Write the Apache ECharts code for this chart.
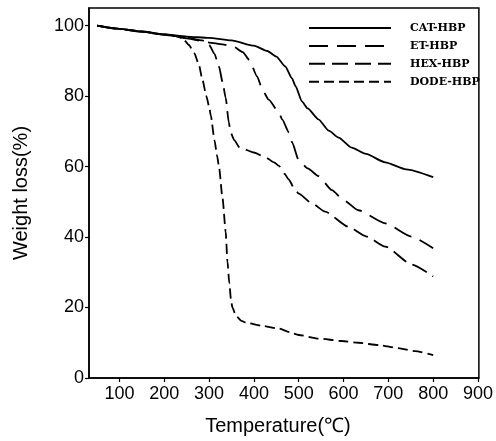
<!DOCTYPE html>
<html>
<head>
<meta charset="utf-8">
<script src="https://cdn.jsdelivr.net/npm/echarts@6/dist/echarts.min.js"></script>
<style>
  html, body { margin: 0; padding: 0; background: #fff; }
  #chart { width: 496px; height: 441px; }
</style>
</head>
<body>
<div id="chart"></div>
<script>
// TGA curves: [temperature (°C), weight (%)]
const seriesNames = ['CAT-HBP', 'ET-HBP', 'HEX-HBP', 'DODE-HBP'];

const catHbp = [[50,100],[100,99.1],[150,98.4],[200,97.5],[250,96.9],[300,96.5],[350,95.8],[400,94.3],[430,92.8],[450,91.2],[470,88.4],[485,85],[493,82.8],[507,78.5],[520,76.5],[544,73.4],[567,70.2],[589,68.2],[618,65.4],[650,63.6],[693,61.2],[740,59.2],[800,57.0]];

const etHbp = [[50,100],[100,99.0],[150,98.2],[200,97.4],[250,96.4],[300,95.2],[330,94.7],[355,94.0],[375,92.5],[390,90.2],[407,85.6],[420,81.5],[433,79.0],[455,75.5],[463,73.4],[478,69.7],[485,66.9],[500,61.8],[520,59.5],[544,57.3],[574,53.3],[600,50.5],[633,47.6],[693,43.9],[752,40.1],[800,36.8]];

const hexHbp = [[50,100],[100,99.1],[150,98.3],[200,97.5],[250,96.6],[285,95.8],[300,94.5],[312,92],[322,88.4],[330,84],[337,79.5],[344,72.5],[348,69.7],[356,67.5],[368,65.4],[400,64.0],[426,62.6],[445,61.2],[456,60.2],[468,58],[478,56.3],[490,53.8],[500,52.3],[530,49.5],[559,47.2],[611,42.9],[650,40.2],[693,37.3],[752,32.2],[800,28.8]];

const dodeHbp = [[50,100],[100,99.1],[150,98.3],[200,97.5],[225,97.0],[241,96.4],[255,94.5],[267,92.2],[277,89],[285,84.7],[294,80],[300,77],[304,74.3],[312,67.5],[318,63],[322,60],[330,51],[337,41.5],[341,33],[345,27],[349,22],[352,20],[360,17.6],[372,16.2],[382,15.7],[420,14.8],[456,14.0],[480,13],[500,12.2],[544,11.2],[596,10.5],[633,10.0],[680,9.3],[722,8.5],[760,7.6],[800,6.5]];

const xTicks = [100, 200, 300, 400, 500, 600, 700, 800, 900];
const yTicks = [0, 20, 40, 60, 80, 100];

const curves = [catHbp, etHbp, hexHbp, dodeHbp];
const dashes = ['solid', [19, 9], [16, 7], [10, 5]];

const chart = echarts.init(document.getElementById('chart'));

chart.setOption({
  animation: false,
  backgroundColor: '#fff',
  grid: {
    left: 89, right: 15, top: 8, bottom: 60,
    show: true, borderColor: '#000', borderWidth: 1.5
  },
  legend: {
    orient: 'vertical',
    left: 303, top: 16,
    itemWidth: 82, itemHeight: 14, itemGap: 3.9,
    data: seriesNames,
    // legend keys show only the line pattern, no marker
    itemStyle: { color: 'rgba(0,0,0,0)', borderWidth: 0, opacity: 0 },
    textStyle: {
      fontFamily: 'DejaVu Serif', fontWeight: 'bold', fontSize: 11, color: '#000',
      lineHeight: 14, padding: [0, 0, 0, 14]
    }
  },
  xAxis: {
    type: 'value', min: 32, max: 902,
    name: 'Temperature(℃)', nameLocation: 'middle', nameGap: 38,
    nameTextStyle: { fontFamily: 'Liberation Sans', fontSize: 20, color: '#000', padding: [0, 12, 0, 0] },
    axisLine: { show: true, lineStyle: { color: '#000', width: 1.5 } },
    axisTick: { show: true, length: 4, customValues: xTicks, lineStyle: { color: '#000', width: 1.2 } },
    axisLabel: { customValues: xTicks, margin: 7, fontFamily: 'Liberation Sans', fontSize: 18, color: '#000' },
    splitLine: { show: false }
  },
  yAxis: {
    type: 'value', min: 0, max: 105,
    name: 'Weight loss(%)', nameLocation: 'middle', nameGap: 58,
    nameTextStyle: { fontFamily: 'Liberation Sans', fontSize: 20, color: '#000' },
    axisLine: { show: true, lineStyle: { color: '#000', width: 1.5 } },
    axisTick: { show: true, length: 4, customValues: yTicks, lineStyle: { color: '#000', width: 1.2 } },
    axisLabel: { customValues: yTicks, margin: 5, fontFamily: 'Liberation Sans', fontSize: 18, color: '#000' },
    splitLine: { show: false }
  },
  series: seriesNames.map((name, i) => ({
    name: name,
    type: 'line',
    data: curves[i],
    symbol: 'none',
    smooth: 0.2,
    smoothMonotone: 'x',
    color: '#000',
    lineStyle: { color: '#000', width: 1.8, type: dashes[i] }
  }))
});
</script>
</body>
</html>
